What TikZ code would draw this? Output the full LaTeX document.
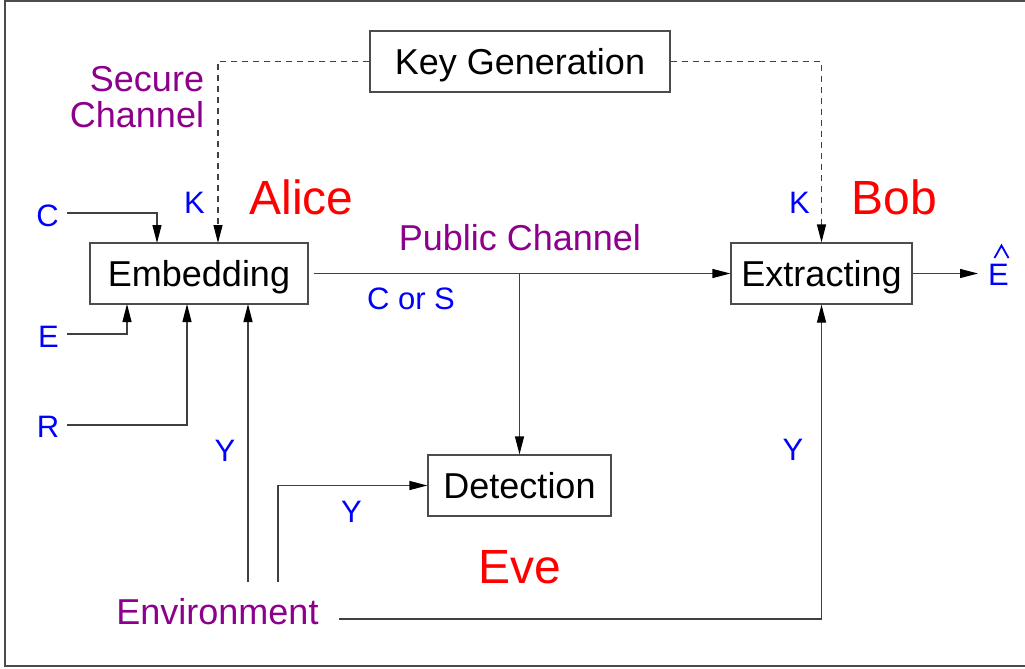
\documentclass[tikz,border=0pt]{standalone}
\usepackage{fontspec}
\setmainfont{Liberation Sans}
\usetikzlibrary{arrows.meta}
\definecolor{pur}{RGB}{140,0,140}
\definecolor{bl}{RGB}{0,0,255}
\definecolor{rd}{RGB}{255,0,0}
\begin{document}
\begin{tikzpicture}[x=1pt,y=-1pt,
  box/.style={draw=black!70, line width=1.2pt, inner sep=0pt, minimum height=61pt, text height=26pt, text depth=0pt, font=\fontsize{36}{40}\selectfont},
  wire/.style={draw=black!75, line width=1.2pt},
  arr/.style={wire, -{Triangle[length=18pt,width=9pt,black]}},
  keyline/.style={wire, dash pattern=on 6pt off 5pt},
  lbl/.style={text=bl, inner sep=0pt, anchor=base, font=\fontsize{31}{34}\selectfont},
  plbl/.style={text=pur, inner sep=0pt, anchor=base, font=\fontsize{36}{40}\selectfont},
  who/.style={text=rd, inner sep=0pt, anchor=base, font=\fontsize{48}{52}\selectfont}]
\useasboundingbox (0,0) rectangle (1025,669);
\draw[black!70, line width=1.6pt] (5,1) rectangle (1040,666);

% boxes
\node[box, minimum width=300pt] (kg) at (520,61.5) {Key Generation};
\node[box, minimum width=218pt] (emb) at (199,273.5) {Embedding};
\node[box, minimum width=181pt] (ext) at (821.5,273.5) {Extracting};
\node[box, minimum width=183pt] (det) at (519.5,485.5) {Detection};

% labels
\node[plbl] (sec1) at (147,92) {Secure};
\node[plbl] (sec2) at (137,127) {Channel};
\node[plbl] (pub) at (520,250) {Public Channel};
\node[plbl] (env) at (217.5,624) {Environment};
\node[who] (alice) at (301.5,214) {Alice};
\node[who] (bob) at (894.5,214) {Bob};
\node[who] (eve) at (520,583) {Eve};
\node[lbl] (lc) at (47.5,226) {C};
\node[lbl] (le) at (48.5,347) {E};
\node[lbl] (lr) at (48,437) {R};
\node[lbl] (k1) at (194.5,213) {K};
\node[lbl] (k2) at (799.5,213) {K};
\node[lbl] (y1) at (225,461) {Y};
\node[lbl] (y2) at (351.5,522) {Y};
\node[lbl] (y3) at (793,460) {Y};
\node[lbl] (cs) at (411,309) {C or S};
\node[lbl] (ehat) at (998.5,285) {E};
% hat over E
\draw[bl, line width=1.8pt, line join=miter] (994.5,258) -- (1001.5,245.5) -- (1008.5,258);

% coordinates
\coordinate (embK) at (218,243);
\coordinate (embC) at (157,243);
\coordinate (embE) at (127,304);
\coordinate (embR) at (187,304);
\coordinate (embY) at (248,304);
\coordinate (cS) at (67,213);
\coordinate (eS) at (67,334);
\coordinate (rS) at (67,425);
\coordinate (yS) at (248,582);
\coordinate (y2S) at (278,582);
\coordinate (envS) at (339,619);
\coordinate (outE) at (978,273.5);
\coordinate (pubS) at (314,273.5);

% connectors
\draw[keyline, -{Triangle[length=18pt,width=9pt,black]}] (kg.west) -| (embK);
\draw[keyline, -{Triangle[length=18pt,width=9pt,black]}] (kg.east) -| (ext.north);
\draw[arr] (cS) -| (embC);
\draw[arr] (eS) -| (embE);
\draw[arr] (rS) -| (embR);
\draw[arr] (yS) -- (embY);
\draw[arr] (pubS) -- (ext.west);
\draw[arr] (det.north |- pubS) -- (det.north);
\draw[arr] (y2S) |- (det.west);
\draw[arr] (envS) -| (ext.south);
\draw[arr] (ext.east) -- (outE);
\end{tikzpicture}
\end{document}
